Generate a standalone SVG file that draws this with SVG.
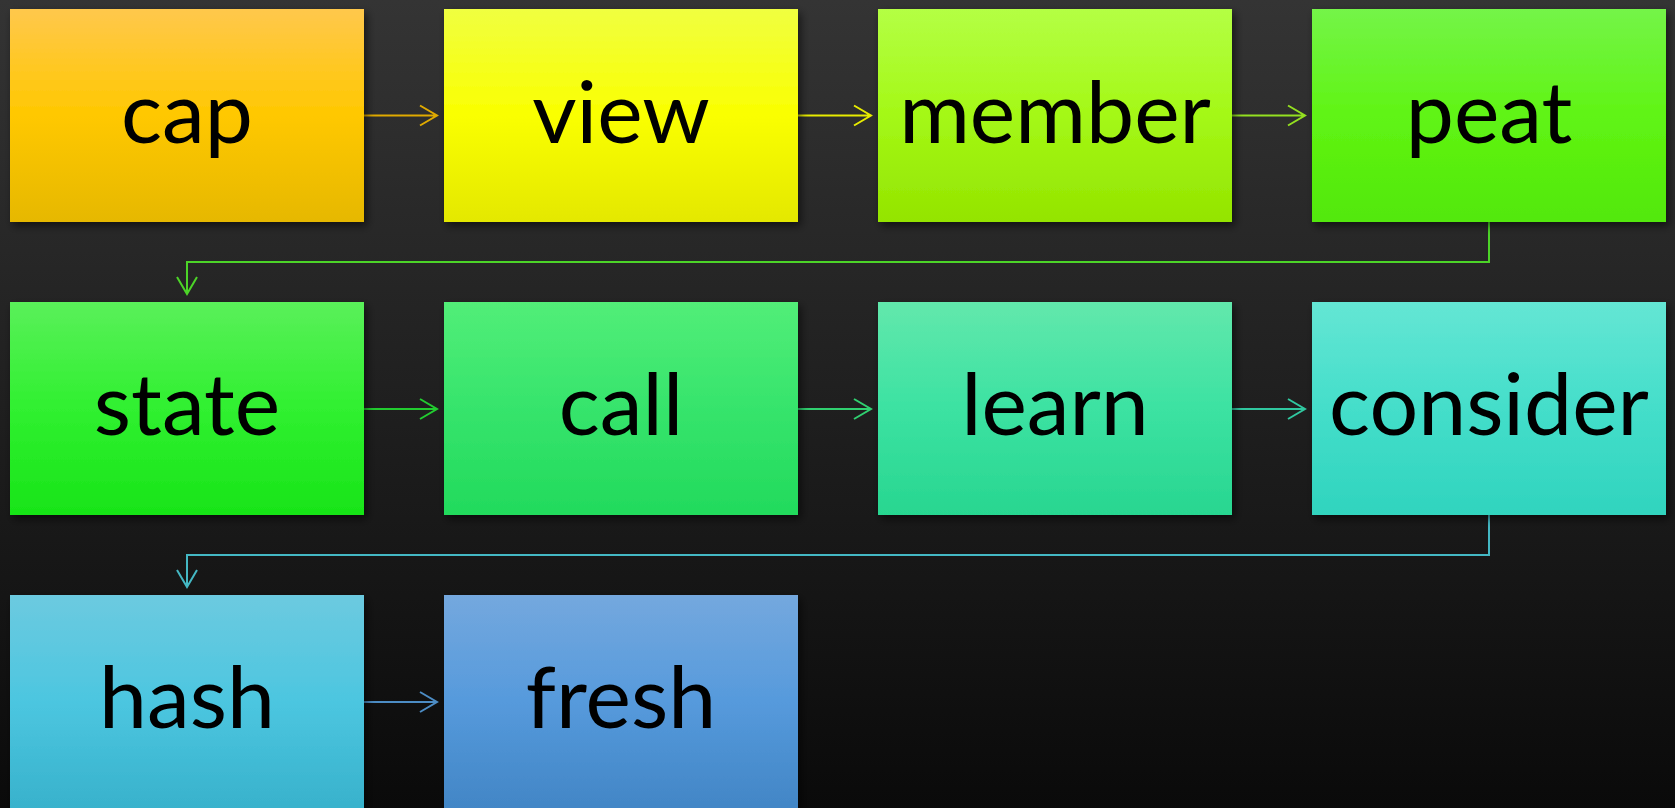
<svg xmlns="http://www.w3.org/2000/svg" width="1675" height="808" viewBox="0 0 1675 808">
<defs>
<linearGradient id="bg" x1="0" y1="0" x2="0" y2="1"><stop offset="0" stop-color="#343434"/><stop offset="1" stop-color="#0a0a0a"/></linearGradient>
<linearGradient id="g1" x1="0" y1="0" x2="0" y2="1"><stop offset="0" stop-color="#FFC84C"/><stop offset="0.5" stop-color="#FFC800"/><stop offset="1" stop-color="#E6B800"/></linearGradient>
<linearGradient id="g2" x1="0" y1="0" x2="0" y2="1"><stop offset="0" stop-color="#F0FF40"/><stop offset="0.5" stop-color="#FAFF00"/><stop offset="1" stop-color="#E4E800"/></linearGradient>
<linearGradient id="g3" x1="0" y1="0" x2="0" y2="1"><stop offset="0" stop-color="#B4FF44"/><stop offset="0.5" stop-color="#A4F816"/><stop offset="1" stop-color="#94E400"/></linearGradient>
<linearGradient id="g4" x1="0" y1="0" x2="0" y2="1"><stop offset="0" stop-color="#74F448"/><stop offset="0.5" stop-color="#60F414"/><stop offset="1" stop-color="#52E808"/></linearGradient>
<linearGradient id="g5" x1="0" y1="0" x2="0" y2="1"><stop offset="0" stop-color="#5AF05A"/><stop offset="0.5" stop-color="#30F030"/><stop offset="1" stop-color="#18E418"/></linearGradient>
<linearGradient id="g6" x1="0" y1="0" x2="0" y2="1"><stop offset="0" stop-color="#52EE78"/><stop offset="0.5" stop-color="#36E46C"/><stop offset="1" stop-color="#22DA5C"/></linearGradient>
<linearGradient id="g7" x1="0" y1="0" x2="0" y2="1"><stop offset="0" stop-color="#62E8AC"/><stop offset="0.5" stop-color="#3CE2A2"/><stop offset="1" stop-color="#28D690"/></linearGradient>
<linearGradient id="g8" x1="0" y1="0" x2="0" y2="1"><stop offset="0" stop-color="#64E6D4"/><stop offset="0.5" stop-color="#44DECA"/><stop offset="1" stop-color="#30D4BE"/></linearGradient>
<linearGradient id="g9" x1="0" y1="0" x2="0" y2="1"><stop offset="0" stop-color="#6CCAE0"/><stop offset="0.5" stop-color="#4CC6E0"/><stop offset="1" stop-color="#38B2CC"/></linearGradient>
<linearGradient id="g10" x1="0" y1="0" x2="0" y2="1"><stop offset="0" stop-color="#74A8DE"/><stop offset="0.5" stop-color="#569ADC"/><stop offset="1" stop-color="#4286C6"/></linearGradient>
<filter id="sh" x="-10%" y="-10%" width="125%" height="130%"><feDropShadow dx="3" dy="4" stdDeviation="4" flood-color="#000" flood-opacity="0.55"/></filter>
</defs>
<style>
.box{filter:url(#sh);}
.lbl{font-family:Lato,"Noto Sans",sans-serif;font-size:86px;fill:#000;text-anchor:middle;}
.c{fill:none;stroke-width:2;}
</style>
<rect width="1675" height="808" fill="url(#bg)"/>
<g id="connectors">
<path class="c" stroke="#E0AA00" d="M364 115.5H437M420 105.5L437 115.5L420 125.5"/>
<path class="c" stroke="#E8EC00" d="M798 115.5H871M854 105.5L871 115.5L854 125.5"/>
<path class="c" stroke="#94E020" d="M1232 115.5H1305M1288 105.5L1305 115.5L1288 125.5"/>
<path class="c" stroke="#4CD428" d="M1489 222V262H187V294M177 277L187 294L197 277"/>
<path class="c" stroke="#22CC30" d="M364 409H437M420 399L437 409L420 419"/>
<path class="c" stroke="#30D070" d="M798 409H871M854 399L871 409L854 419"/>
<path class="c" stroke="#30C8A0" d="M1232 409H1305M1288 399L1305 409L1288 419"/>
<path class="c" stroke="#44B8C4" d="M1489 515V555H187V587M177 570L187 587L197 570"/>
<path class="c" stroke="#4C8CC4" d="M364 702H437M420 692L437 702L420 712"/>
</g>
<g id="n-cap"><rect class="box" x="10" y="9" width="354" height="213" fill="url(#g1)"/><text class="lbl" x="187" y="143">cap</text></g>
<g id="n-view"><rect class="box" x="444" y="9" width="354" height="213" fill="url(#g2)"/><text class="lbl" x="621" y="143">view</text></g>
<g id="n-member"><rect class="box" x="878" y="9" width="354" height="213" fill="url(#g3)"/><text class="lbl" x="1055" y="143">member</text></g>
<g id="n-peat"><rect class="box" x="1312" y="9" width="354" height="213" fill="url(#g4)"/><text class="lbl" x="1489" y="143">peat</text></g>
<g id="n-state"><rect class="box" x="10" y="302" width="354" height="213" fill="url(#g5)"/><text class="lbl" x="187" y="435">state</text></g>
<g id="n-call"><rect class="box" x="444" y="302" width="354" height="213" fill="url(#g6)"/><text class="lbl" x="621" y="435">call</text></g>
<g id="n-learn"><rect class="box" x="878" y="302" width="354" height="213" fill="url(#g7)"/><text class="lbl" x="1055" y="435">learn</text></g>
<g id="n-consider"><rect class="box" x="1312" y="302" width="354" height="213" fill="url(#g8)"/><text class="lbl" x="1489" y="435">consider</text></g>
<g id="n-hash"><rect class="box" x="10" y="595" width="354" height="213" fill="url(#g9)"/><text class="lbl" x="187" y="728">hash</text></g>
<g id="n-fresh"><rect class="box" x="444" y="595" width="354" height="213" fill="url(#g10)"/><text class="lbl" x="621" y="728">fresh</text></g>
</svg>
